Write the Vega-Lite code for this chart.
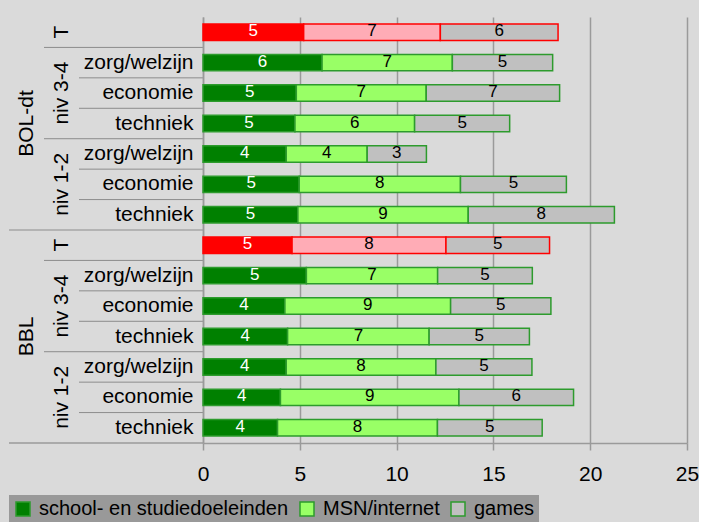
{
  "$schema": "https://vega.github.io/schema/vega-lite/v6.json",
  "background": "#dadada",
  "padding": {"left": 8, "top": 17, "right": 0, "bottom": 0},
  "config": {
    "font": "Liberation Sans",
    "view": {"stroke": null},
    "concat": {"spacing": 0}
  },
  "datasets": {
    "rows": [
      {"id": "BOL-dt|T", "niveau": "T", "series": "school- en studiedoeleinden", "ord": 1, "value": 5.2},
      {"id": "BOL-dt|T", "niveau": "T", "series": "MSN/internet", "ord": 2, "value": 7.06},
      {"id": "BOL-dt|T", "niveau": "T", "series": "games", "ord": 3, "value": 6.08},
      {"id": "BOL-dt|niv 3-4|zorg/welzijn", "niveau": "niv 3-4", "series": "school- en studiedoeleinden", "ord": 1, "value": 6.15},
      {"id": "BOL-dt|niv 3-4|zorg/welzijn", "niveau": "niv 3-4", "series": "MSN/internet", "ord": 2, "value": 6.73},
      {"id": "BOL-dt|niv 3-4|zorg/welzijn", "niveau": "niv 3-4", "series": "games", "ord": 3, "value": 5.18},
      {"id": "BOL-dt|niv 3-4|economie", "niveau": "niv 3-4", "series": "school- en studiedoeleinden", "ord": 1, "value": 4.82},
      {"id": "BOL-dt|niv 3-4|economie", "niveau": "niv 3-4", "series": "MSN/internet", "ord": 2, "value": 6.71},
      {"id": "BOL-dt|niv 3-4|economie", "niveau": "niv 3-4", "series": "games", "ord": 3, "value": 6.89},
      {"id": "BOL-dt|niv 3-4|techniek", "niveau": "niv 3-4", "series": "school- en studiedoeleinden", "ord": 1, "value": 4.75},
      {"id": "BOL-dt|niv 3-4|techniek", "niveau": "niv 3-4", "series": "MSN/internet", "ord": 2, "value": 6.18},
      {"id": "BOL-dt|niv 3-4|techniek", "niveau": "niv 3-4", "series": "games", "ord": 3, "value": 4.91},
      {"id": "BOL-dt|niv 1-2|zorg/welzijn", "niveau": "niv 1-2", "series": "school- en studiedoeleinden", "ord": 1, "value": 4.3},
      {"id": "BOL-dt|niv 1-2|zorg/welzijn", "niveau": "niv 1-2", "series": "MSN/internet", "ord": 2, "value": 4.18},
      {"id": "BOL-dt|niv 1-2|zorg/welzijn", "niveau": "niv 1-2", "series": "games", "ord": 3, "value": 3.06},
      {"id": "BOL-dt|niv 1-2|economie", "niveau": "niv 1-2", "series": "school- en studiedoeleinden", "ord": 1, "value": 4.97},
      {"id": "BOL-dt|niv 1-2|economie", "niveau": "niv 1-2", "series": "MSN/internet", "ord": 2, "value": 8.33},
      {"id": "BOL-dt|niv 1-2|economie", "niveau": "niv 1-2", "series": "games", "ord": 3, "value": 5.47},
      {"id": "BOL-dt|niv 1-2|techniek", "niveau": "niv 1-2", "series": "school- en studiedoeleinden", "ord": 1, "value": 4.9},
      {"id": "BOL-dt|niv 1-2|techniek", "niveau": "niv 1-2", "series": "MSN/internet", "ord": 2, "value": 8.8},
      {"id": "BOL-dt|niv 1-2|techniek", "niveau": "niv 1-2", "series": "games", "ord": 3, "value": 7.55},
      {"id": "BBL|T", "niveau": "T", "series": "school- en studiedoeleinden", "ord": 1, "value": 4.6},
      {"id": "BBL|T", "niveau": "T", "series": "MSN/internet", "ord": 2, "value": 7.95},
      {"id": "BBL|T", "niveau": "T", "series": "games", "ord": 3, "value": 5.35},
      {"id": "BBL|niv 3-4|zorg/welzijn", "niveau": "niv 3-4", "series": "school- en studiedoeleinden", "ord": 1, "value": 5.34},
      {"id": "BBL|niv 3-4|zorg/welzijn", "niveau": "niv 3-4", "series": "MSN/internet", "ord": 2, "value": 6.78},
      {"id": "BBL|niv 3-4|zorg/welzijn", "niveau": "niv 3-4", "series": "games", "ord": 3, "value": 4.89},
      {"id": "BBL|niv 3-4|economie", "niveau": "niv 3-4", "series": "school- en studiedoeleinden", "ord": 1, "value": 4.23},
      {"id": "BBL|niv 3-4|economie", "niveau": "niv 3-4", "series": "MSN/internet", "ord": 2, "value": 8.56},
      {"id": "BBL|niv 3-4|economie", "niveau": "niv 3-4", "series": "games", "ord": 3, "value": 5.18},
      {"id": "BBL|niv 3-4|techniek", "niveau": "niv 3-4", "series": "school- en studiedoeleinden", "ord": 1, "value": 4.37},
      {"id": "BBL|niv 3-4|techniek", "niveau": "niv 3-4", "series": "MSN/internet", "ord": 2, "value": 7.31},
      {"id": "BBL|niv 3-4|techniek", "niveau": "niv 3-4", "series": "games", "ord": 3, "value": 5.18},
      {"id": "BBL|niv 1-2|zorg/welzijn", "niveau": "niv 1-2", "series": "school- en studiedoeleinden", "ord": 1, "value": 4.3},
      {"id": "BBL|niv 1-2|zorg/welzijn", "niveau": "niv 1-2", "series": "MSN/internet", "ord": 2, "value": 7.73},
      {"id": "BBL|niv 1-2|zorg/welzijn", "niveau": "niv 1-2", "series": "games", "ord": 3, "value": 4.96},
      {"id": "BBL|niv 1-2|economie", "niveau": "niv 1-2", "series": "school- en studiedoeleinden", "ord": 1, "value": 4.0},
      {"id": "BBL|niv 1-2|economie", "niveau": "niv 1-2", "series": "MSN/internet", "ord": 2, "value": 9.22},
      {"id": "BBL|niv 1-2|economie", "niveau": "niv 1-2", "series": "games", "ord": 3, "value": 5.92},
      {"id": "BBL|niv 1-2|techniek", "niveau": "niv 1-2", "series": "school- en studiedoeleinden", "ord": 1, "value": 3.85},
      {"id": "BBL|niv 1-2|techniek", "niveau": "niv 1-2", "series": "MSN/internet", "ord": 2, "value": 8.26},
      {"id": "BBL|niv 1-2|techniek", "niveau": "niv 1-2", "series": "games", "ord": 3, "value": 5.41}
    ]
  },
  "hconcat": [
    {
      "width": 35,
      "height": 426,
      "encoding": {
        "y": {"field": "id", "type": "nominal", "axis": null,
          "scale": {"paddingInner": 0, "paddingOuter": 0, "domain": ["BOL-dt|T","BOL-dt|niv 3-4|zorg/welzijn","BOL-dt|niv 3-4|economie","BOL-dt|niv 3-4|techniek","BOL-dt|niv 1-2|zorg/welzijn","BOL-dt|niv 1-2|economie","BOL-dt|niv 1-2|techniek","BBL|T","BBL|niv 3-4|zorg/welzijn","BBL|niv 3-4|economie","BBL|niv 3-4|techniek","BBL|niv 1-2|zorg/welzijn","BBL|niv 1-2|economie","BBL|niv 1-2|techniek"]}}
      },
      "layer": [
        {
          "data": {"values": [{"id": "BOL-dt|niv 3-4|techniek", "label": "BOL-dt"}, {"id": "BBL|niv 3-4|techniek", "label": "BBL"}]},
          "mark": {"type": "text", "angle": 270, "fontSize": 21, "color": "black", "align": "center", "baseline": "middle"},
          "encoding": {"text": {"field": "label"}}
        },
        {
          "data": {"values": [{"id": "BBL|T"}]},
          "mark": {"type": "rule", "color": "#8c8c8c", "strokeWidth": 1},
          "encoding": {"y": {"field": "id", "type": "nominal", "bandPosition": 0}}
        },
        {
          "data": {"values": [{"id": "BBL|niv 1-2|techniek"}]},
          "mark": {"type": "rule", "color": "#9a9a9a", "strokeWidth": 1.5},
          "encoding": {"y": {"field": "id", "type": "nominal", "bandPosition": 1}}
        }
      ]
    },
    {
      "width": 35,
      "height": 426,
      "encoding": {
        "y": {"field": "id", "type": "nominal", "axis": null,
          "scale": {"paddingInner": 0, "paddingOuter": 0, "domain": ["BOL-dt|T","BOL-dt|niv 3-4|zorg/welzijn","BOL-dt|niv 3-4|economie","BOL-dt|niv 3-4|techniek","BOL-dt|niv 1-2|zorg/welzijn","BOL-dt|niv 1-2|economie","BOL-dt|niv 1-2|techniek","BBL|T","BBL|niv 3-4|zorg/welzijn","BBL|niv 3-4|economie","BBL|niv 3-4|techniek","BBL|niv 1-2|zorg/welzijn","BBL|niv 1-2|economie","BBL|niv 1-2|techniek"]}}
      },
      "layer": [
        {
          "data": {"values": [
            {"id": "BOL-dt|T", "label": "T"},
            {"id": "BOL-dt|niv 3-4|economie", "label": "niv 3-4"},
            {"id": "BOL-dt|niv 1-2|economie", "label": "niv 1-2"},
            {"id": "BBL|T", "label": "T"},
            {"id": "BBL|niv 3-4|economie", "label": "niv 3-4"},
            {"id": "BBL|niv 1-2|economie", "label": "niv 1-2"}
          ]},
          "mark": {"type": "text", "angle": 270, "fontSize": 21, "color": "black", "align": "center", "baseline": "middle"},
          "encoding": {"text": {"field": "label"}}
        },
        {
          "data": {"values": [
            {"id": "BOL-dt|niv 3-4|zorg/welzijn"},
            {"id": "BOL-dt|niv 1-2|zorg/welzijn"},
            {"id": "BBL|T"},
            {"id": "BBL|niv 3-4|zorg/welzijn"},
            {"id": "BBL|niv 1-2|zorg/welzijn"}
          ]},
          "mark": {"type": "rule", "color": "#8c8c8c", "strokeWidth": 1},
          "encoding": {"y": {"field": "id", "type": "nominal", "bandPosition": 0}}
        },
        {
          "data": {"values": [{"id": "BBL|niv 1-2|techniek"}]},
          "mark": {"type": "rule", "color": "#9a9a9a", "strokeWidth": 1.5},
          "encoding": {"y": {"field": "id", "type": "nominal", "bandPosition": 1}}
        }
      ]
    },
    {
      "width": 124,
      "height": 426,
      "encoding": {
        "y": {"field": "id", "type": "nominal", "axis": null,
          "scale": {"paddingInner": 0, "paddingOuter": 0, "domain": ["BOL-dt|T","BOL-dt|niv 3-4|zorg/welzijn","BOL-dt|niv 3-4|economie","BOL-dt|niv 3-4|techniek","BOL-dt|niv 1-2|zorg/welzijn","BOL-dt|niv 1-2|economie","BOL-dt|niv 1-2|techniek","BBL|T","BBL|niv 3-4|zorg/welzijn","BBL|niv 3-4|economie","BBL|niv 3-4|techniek","BBL|niv 1-2|zorg/welzijn","BBL|niv 1-2|economie","BBL|niv 1-2|techniek"]}}
      },
      "layer": [
        {
          "data": {"values": [
            {"id": "BOL-dt|niv 3-4|zorg/welzijn"},
            {"id": "BOL-dt|niv 3-4|economie"},
            {"id": "BOL-dt|niv 3-4|techniek"},
            {"id": "BOL-dt|niv 1-2|zorg/welzijn"},
            {"id": "BOL-dt|niv 1-2|economie"},
            {"id": "BOL-dt|niv 1-2|techniek"},
            {"id": "BBL|T"},
            {"id": "BBL|niv 3-4|zorg/welzijn"},
            {"id": "BBL|niv 3-4|economie"},
            {"id": "BBL|niv 3-4|techniek"},
            {"id": "BBL|niv 1-2|zorg/welzijn"},
            {"id": "BBL|niv 1-2|economie"},
            {"id": "BBL|niv 1-2|techniek"}
          ]},
          "mark": {"type": "rule", "color": "#8c8c8c", "strokeWidth": 1},
          "encoding": {"y": {"field": "id", "type": "nominal", "bandPosition": 0}}
        },
        {
          "data": {"values": [{"id": "BBL|niv 1-2|techniek"}]},
          "mark": {"type": "rule", "color": "#9a9a9a", "strokeWidth": 1.5},
          "encoding": {"y": {"field": "id", "type": "nominal", "bandPosition": 1}}
        }
      ]
    },
    {
      "width": 484,
      "height": 426,
      "data": {"name": "rows"},
      "encoding": {
        "y": {"field": "id", "type": "nominal",
          "scale": {"paddingInner": 0.46, "paddingOuter": 0.23, "domain": ["BOL-dt|T","BOL-dt|niv 3-4|zorg/welzijn","BOL-dt|niv 3-4|economie","BOL-dt|niv 3-4|techniek","BOL-dt|niv 1-2|zorg/welzijn","BOL-dt|niv 1-2|economie","BOL-dt|niv 1-2|techniek","BBL|T","BBL|niv 3-4|zorg/welzijn","BBL|niv 3-4|economie","BBL|niv 3-4|techniek","BBL|niv 1-2|zorg/welzijn","BBL|niv 1-2|economie","BBL|niv 1-2|techniek"]},
          "axis": {"title": null, "ticks": false, "grid": false, "domain": true, "domainColor": "#9a9a9a", "domainWidth": 1.5,
            "labelExpr": "split(datum.value, '|')[2] || ''", "labelFontSize": 21, "labelColor": "black", "labelPadding": 10, "labelLimit": 200}},
        "x": {"field": "value", "type": "quantitative", "stack": "zero",
          "scale": {"domain": [0, 25], "nice": false},
          "axis": {"title": null, "values": [0, 5, 10, 15, 20, 25], "grid": true, "gridColor": "#9a9a9a", "gridWidth": 1.5,
            "domainColor": "#9a9a9a", "domainWidth": 1.5, "tickColor": "#9a9a9a", "tickWidth": 1.5, "tickSize": 7,
            "labelFontSize": 21, "labelColor": "black", "labelPadding": 13, "labelFlush": false}},
        "order": {"field": "ord", "type": "quantitative"}
      },
      "layer": [
        {
          "mark": {"type": "bar", "strokeWidth": 1.5},
          "encoding": {
            "color": {
              "field": "series", "type": "nominal",
              "condition": [
                {"test": "datum.niveau === 'T' && datum.ord === 1", "value": "#ff0000"},
                {"test": "datum.niveau === 'T' && datum.ord === 2", "value": "#ffacb6"}
              ],
              "scale": {"domain": ["school- en studiedoeleinden", "MSN/internet", "games"], "range": ["#008000", "#99ff66", "#c0c0c0"]},
              "legend": {"title": null, "orient": "bottom", "direction": "horizontal", "fillColor": "#999999",
                "padding": 4, "symbolType": "square", "symbolSize": 196, "symbolStrokeColor": "#2d9b2d", "symbolStrokeWidth": 1.5,
                "labelFontSize": 20, "labelColor": "black", "labelOffset": 6, "labelLimit": 0, "columnPadding": 8, "offset": 11}
            },
            "stroke": {"condition": {"test": "datum.niveau === 'T'", "value": "#ff0000"}, "value": "#2d9b2d"}
          }
        },
        {
          "mark": {"type": "text", "fontSize": 17, "baseline": "middle", "dy": -1},
          "encoding": {
            "x": {"field": "value", "type": "quantitative", "stack": "zero", "bandPosition": 0.5},
            "text": {"field": "value", "type": "quantitative", "format": ".0f"},
            "color": {"condition": {"test": "datum.ord === 1", "value": "white"}, "value": "black"}
          }
        }
      ]
    }
  ],
  "bounds": "flush"
}
